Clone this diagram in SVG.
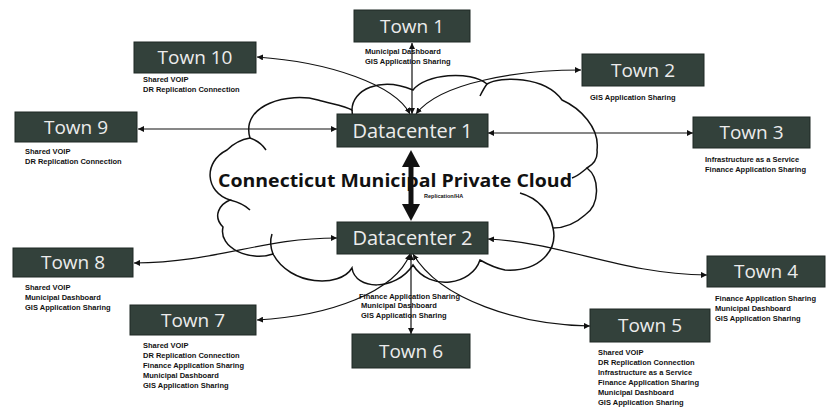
<svg xmlns="http://www.w3.org/2000/svg" width="830" height="409" viewBox="0 0 830 409">
<style>
.box{fill:#33413b;stroke:#1f2824;stroke-width:1}
.bt{font-family:"Open Sans","DejaVu Sans",sans-serif;font-size:19px;fill:#ececec;text-anchor:middle}
.dt{font-size:20px}
.lb{font-family:"Liberation Sans",Arial,sans-serif;font-weight:bold;font-size:7.5px;fill:#111}
.ttl{font-family:"Open Sans","Liberation Sans",sans-serif;font-weight:bold;font-size:17px;fill:#111}
.cn{fill:none;stroke:#111;stroke-width:1.2}
.cl{fill:none;stroke:#111;stroke-width:1.5}
</style>
<defs>
<pattern id="speck" width="23" height="19" patternUnits="userSpaceOnUse">
<circle cx="3" cy="4" r="0.6" fill="#9a9a9a"/>
<circle cx="14" cy="9" r="0.5" fill="#b0b0b0"/>
<circle cx="8" cy="15" r="0.6" fill="#a5a5a5"/>
<circle cx="19" cy="17" r="0.5" fill="#bbbbbb"/>
</pattern>
<marker id="ar" viewBox="0 0 6 6" markerWidth="6" markerHeight="6" refX="6" refY="3" orient="auto-start-reverse" markerUnits="userSpaceOnUse">
<path d="M0,0 L6,3 L0,6 z" fill="#111"/>
</marker>
</defs>
<rect width="830" height="409" fill="#ffffff"/>

<g id="cloud">
<path d="M250,138 C240,104 290,92 318,100 C332,104 345,106 352,110 C352,90 380,76 413,90 C425,74 470,70 487,84 C500,76 545,76 562,100 C580,108 600,128 597,150 C598,158 594,164 587,168 C600,178 600,205 585,215 C575,224 565,228 553,228 C558,250 540,272 505,270 C495,268 487,264 480,260 C472,285 430,292 413,265 C395,292 355,290 352,268 C340,288 290,286 273,254 C250,262 218,248 223,227 C212,216 220,204 230,200 C205,192 203,162 227,150 C235,142 244,139 250,138 Z" fill="#ffffff"/>
<path d="M250,138 C240,104 290,92 318,100 C332,104 345,106 352,110 C352,90 380,76 413,90 C425,74 470,70 487,84 C500,76 545,76 562,100 C580,108 600,128 597,150 C598,158 594,164 587,168 C600,178 600,205 585,215 C575,224 565,228 553,228 C558,250 540,272 505,270 C495,268 487,264 480,260 C472,285 430,292 413,265 C395,292 355,290 352,268 C340,288 290,286 273,254 C250,262 218,248 223,227 C212,216 220,204 230,200 C205,192 203,162 227,150 C235,142 244,139 250,138 Z" fill="url(#speck)" class="cl"/>
<path class="cl" d="M250,138 C256,140 262,144 266,150"/>
<path class="cl" d="M352,110 C352,116 354,120 357,124"/>
<path class="cl" d="M487,84 C484,88 482,92 480,96"/>
<path class="cl" d="M587,168 C582,172 578,176 572,178"/>
<path class="cl" d="M520,193 C538,198 550,212 553,228"/>
<path class="cl" d="M230,200 C238,202 246,206 250,210"/>
<path class="cl" d="M273,254 C270,246 270,240 272,234"/>
</g>

<text class="ttl" x="218" y="187" textLength="354" lengthAdjust="spacingAndGlyphs">Connecticut  Municipal Private Cloud</text>
<text class="lb" x="424" y="198" style="font-size:5.5px">Replication/HA</text>

<g id="connectors">
<path class="cn" d="M412,114 L412,43" marker-end="url(#ar)" marker-start="url(#ar)"/>
<path class="cn" d="M257,57 C330,62 395,85 410,114" marker-start="url(#ar)" marker-end="url(#ar)"/>
<path class="cn" d="M581,70 C520,70 440,82 416,114" marker-start="url(#ar)" marker-end="url(#ar)"/>
<path class="cn" d="M138,129 L337,129" marker-start="url(#ar)" marker-end="url(#ar)"/>
<path class="cn" d="M488,133 L693,133" marker-start="url(#ar)" marker-end="url(#ar)"/>
<path class="cn" d="M134,263 C220,262 260,238 337,238" marker-start="url(#ar)" marker-end="url(#ar)"/>
<path class="cn" d="M488,239 C565,243 620,274 707,275" marker-start="url(#ar)" marker-end="url(#ar)"/>
<path class="cn" d="M411,254 L411,334" marker-start="url(#ar)" marker-end="url(#ar)"/>
<path class="cn" d="M257,320 C330,316 395,292 410,254" marker-start="url(#ar)" marker-end="url(#ar)"/>
<path class="cn" d="M413,254 C440,300 520,325 590,326" marker-start="url(#ar)" marker-end="url(#ar)"/>
<g id="dc-link">
<line x1="411" y1="164" x2="411" y2="207" stroke="#111" stroke-width="5"/>
<polygon points="411,150 402,167 420,167" fill="#111"/>
<polygon points="411,221 402,204 420,204" fill="#111"/>
</g>
</g>

<g id="dc1"><rect class="box" x="337" y="114" width="151" height="33"/><text class="bt dt" x="412.5" y="138">Datacenter 1</text></g>
<g id="dc2"><rect class="box" x="337" y="222" width="151" height="32"/><text class="bt dt" x="412.5" y="245">Datacenter 2</text></g>

<g id="town1"><rect class="box" x="354" y="10" width="116" height="32"/><text class="bt" x="412" y="33">Town 1</text>
<text class="lb" x="365" y="54">Municipal Dashboard</text><text class="lb" x="365" y="64">GIS Application Sharing</text></g>

<g id="town10"><rect class="box" x="134" y="42" width="122" height="31"/><text class="bt" x="195" y="64">Town 10</text>
<text class="lb" x="143" y="82">Shared VOIP</text><text class="lb" x="143" y="92">DR Replication Connection</text></g>

<g id="town2"><rect class="box" x="582" y="54" width="122" height="32"/><text class="bt" x="643" y="77">Town 2</text>
<text class="lb" x="590" y="100">GIS Application Sharing</text></g>

<g id="town9"><rect class="box" x="15" y="112" width="122" height="30"/><text class="bt" x="76" y="134">Town 9</text>
<text class="lb" x="25" y="154">Shared VOIP</text><text class="lb" x="25" y="164">DR Replication Connection</text></g>

<g id="town3"><rect class="box" x="693" y="117" width="117" height="31"/><text class="bt" x="751.5" y="139">Town 3</text>
<text class="lb" x="705" y="162">Infrastructure as a Service</text><text class="lb" x="705" y="172">Finance Application Sharing</text></g>

<g id="town8"><rect class="box" x="13" y="248" width="120" height="29"/><text class="bt" x="73" y="269">Town 8</text>
<text class="lb" x="25" y="290">Shared VOIP</text><text class="lb" x="25" y="300">Municipal Dashboard</text><text class="lb" x="25" y="310">GIS Application Sharing</text></g>

<g id="town4"><rect class="box" x="707" y="256" width="118" height="31"/><text class="bt" x="766" y="278">Town 4</text>
<text class="lb" x="715" y="301">Finance Application Sharing</text><text class="lb" x="715" y="311">Municipal Dashboard</text><text class="lb" x="715" y="321">GIS Application Sharing</text></g>

<g id="town6"><rect class="box" x="352" y="334" width="118" height="34"/><text class="bt" x="411" y="358">Town 6</text>
<text class="lb" x="359" y="299">Finance Application Sharing</text><text class="lb" x="361" y="308">Municipal Dashboard</text><text class="lb" x="361" y="318">GIS Application Sharing</text></g>

<g id="town7"><rect class="box" x="130" y="305" width="126" height="30"/><text class="bt" x="193" y="327">Town 7</text>
<text class="lb" x="143" y="348">Shared VOIP</text><text class="lb" x="143" y="358">DR Replication Connection</text><text class="lb" x="143" y="368">Finance Application Sharing</text><text class="lb" x="143" y="378">Municipal Dashboard</text><text class="lb" x="143" y="388">GIS Application Sharing</text></g>

<g id="town5"><rect class="box" x="590" y="309" width="120" height="33"/><text class="bt" x="650" y="332">Town 5</text>
<text class="lb" x="598" y="355">Shared VOIP</text><text class="lb" x="598" y="365">DR Replication Connection</text><text class="lb" x="598" y="375">Infrastructure as a Service</text><text class="lb" x="598" y="385">Finance Application Sharing</text><text class="lb" x="598" y="395">Municipal Dashboard</text><text class="lb" x="598" y="405">GIS Application Sharing</text></g>
</svg>
